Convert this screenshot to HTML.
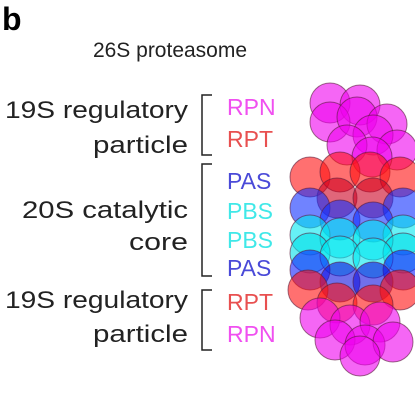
<!DOCTYPE html>
<html><head><meta charset="utf-8"><style>
body{margin:0;background:#fff;width:415px;height:413px;overflow:hidden}
text{font-family:"Liberation Sans",sans-serif}
</style></head><body>
<svg width="415" height="413" viewBox="0 0 415 413">
<text x="2" y="30" font-size="32" font-weight="bold">b</text>
<text x="170" y="57" font-size="21" text-anchor="middle" fill="#222">26S proteasome</text>
<g font-size="24" fill="#222">
<text x="5" y="118" textLength="183" lengthAdjust="spacingAndGlyphs">19S regulatory</text>
<text x="93" y="153" textLength="95" lengthAdjust="spacingAndGlyphs">particle</text>
<text x="22" y="218" textLength="166" lengthAdjust="spacingAndGlyphs">20S catalytic</text>
<text x="129" y="250" textLength="59" lengthAdjust="spacingAndGlyphs">core</text>
<text x="5" y="308" textLength="183" lengthAdjust="spacingAndGlyphs">19S regulatory</text>
<text x="93" y="342" textLength="95" lengthAdjust="spacingAndGlyphs">particle</text>
</g>
<g fill="none" stroke="#222" stroke-width="1.5">
<path d="M212 95 H202 V155 H212"/>
<path d="M212 164 H202 V276 H212"/>
<path d="M212 290 H202 V350 H212"/>
</g>
<g font-size="23">
<text x="227" y="115" fill="#f050f0">RPN</text>
<text x="227" y="147" fill="#e85050">RPT</text>
<text x="227" y="189" fill="#4a4ad8">PAS</text>
<text x="227" y="219" fill="#40e8e8">PBS</text>
<text x="227" y="248" fill="#40e8e8">PBS</text>
<text x="227" y="276" fill="#4a4ad8">PAS</text>
<text x="227" y="310" fill="#e85050">RPT</text>
<text x="227" y="342" fill="#f050f0">RPN</text>
</g>
<g id="mol" stroke="#5a1a3a" stroke-opacity="0.6" stroke-width="1"></g>
</svg>
<script>
const circles=[
[330,103,'#ee00ee'],[360,105,'#ee00ee'],[330,122,'#ee00ee'],[357,117,'#ee00ee'],[387,124,'#ee00ee'],[373,135,'#ee00ee'],[347,145,'#ee00ee'],[397,150,'#ee00ee'],[372,157,'#ee00ee'],
[310,177,'#ff1010'],[340,172,'#ff1010'],[370,172,'#ff1010'],[400,177,'#ff1010'],[337,198,'#cc0022'],[373,198,'#cc0022'],
[310,208,'#1030ff'],[403,208,'#1030ff'],[340,220,'#1030ff'],[373,222,'#1030ff'],
[310,235,'#00e8f0'],[403,235,'#00e8f0'],[340,238,'#00e8f0'],[373,240,'#00e8f0'],
[310,253,'#00e0e8'],[403,253,'#00e0e8'],[340,256,'#00e8f0'],[373,258,'#00e8f0'],
[310,270,'#1020ff'],[403,270,'#1020ff'],[340,282,'#1010dd'],[373,282,'#1010dd'],
[308,290,'#ff1010'],[400,290,'#ff1010'],[337,303,'#ff1010'],[373,305,'#ff1010'],
[320,318,'#ee00ee'],[350,325,'#ee00ee'],[380,322,'#ee00ee'],[335,340,'#ee00ee'],[365,345,'#ee00ee'],[393,342,'#ee00ee'],[360,356,'#ee00ee']
];
const g=document.getElementById('mol');
circles.forEach(c=>{
const e=document.createElementNS('http://www.w3.org/2000/svg','circle');
e.setAttribute('cx',c[0]);e.setAttribute('cy',c[1]);e.setAttribute('r',20);
e.setAttribute('fill',c[2]);e.setAttribute('fill-opacity',0.6);


g.appendChild(e);});
</script>
</body></html>
